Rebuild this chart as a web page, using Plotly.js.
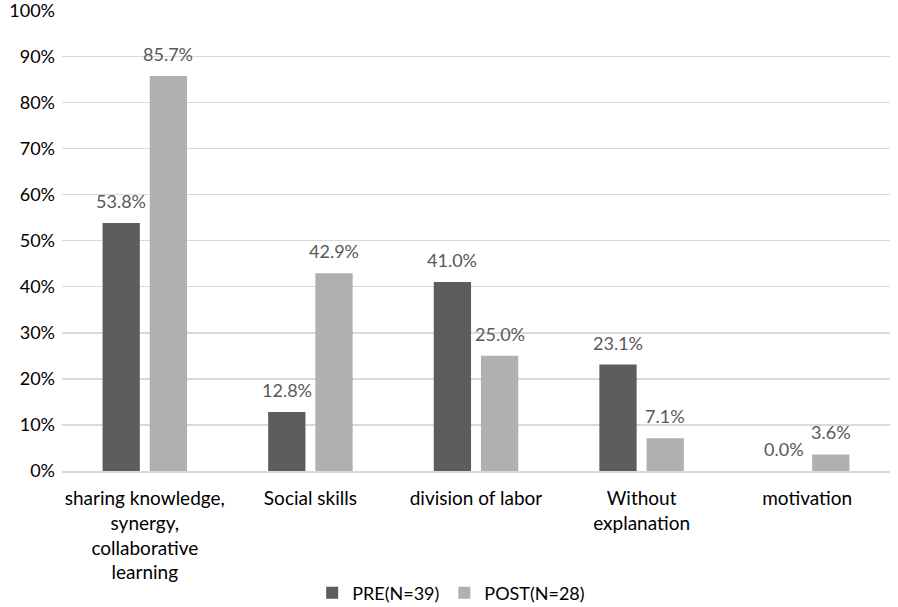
<!DOCTYPE html>
<html>
<head>
<meta charset="utf-8">
<script src="https://cdn.plot.ly/plotly-3.0.1.min.js"></script>
<style>html,body{margin:0;padding:0;background:#fff;}#chart{width:898px;height:607px;}</style>
</head>
<body>
<div id="chart"></div>
<script>
const categories = ["sharing knowledge,<br>synergy,<br>collaborative<br>learning", "Social skills", "division of labor", "Without<br>explanation", "motivation"];
const preValues = [0.538, 0.128, 0.410, 0.231, 0.000];
const postValues = [0.857, 0.429, 0.250, 0.071, 0.036];
const preName = "PRE(N=39)";
const postName = "POST(N=28)";
const yTickVals = [0,0.1,0.2,0.3,0.4,0.5,0.6,0.7,0.8,0.9,1.0];

const fmt = v => (v*100).toFixed(1) + "%";
const FONT = "Lato, 'Open Sans', sans-serif";
const labelFont = {family: FONT, size: 18, color: "#595959"};

const traces = [
  {type: "bar", name: preName, x: categories, y: preValues,
   marker: {color: "#5d5d5d", line: {width: 0}}, hoverinfo: "none"},
  {type: "bar", name: postName, x: categories, y: postValues,
   marker: {color: "#b0b0b0", line: {width: 0}}, hoverinfo: "none"}
];

const annotations = [];
categories.forEach((c, i) => {
  annotations.push({x: c, y: preValues[i], xref: "x", yref: "y", text: fmt(preValues[i]),
    showarrow: false, xshift: -23.6, yshift: 9, yanchor: "bottom", font: labelFont});
  annotations.push({x: c, y: postValues[i], xref: "x", yref: "y", text: fmt(postValues[i]),
    showarrow: false, xshift: 23.6, yshift: 9, yanchor: "bottom", font: labelFont});
});

const layout = {
  width: 898, height: 607,
  margin: {l: 62, r: 8, t: 10, b: 136},
  paper_bgcolor: "#fff", plot_bgcolor: "#fff",
  barmode: "group", bargap: 0.43, bargroupgap: 0.21,
  font: {family: FONT, color: "#000"},
  showlegend: true,
  legend: {orientation: "h", xref: "paper", x: 0.47, xanchor: "center",
           yref: "container", y: 0.023, yanchor: "middle",
           font: {size: 18, color: "#000"}, traceorder: "normal"},
  annotations: annotations,
  xaxis: {type: "category", showgrid: false, showline: true, linecolor: "#d9d9d9", linewidth: 1.5,
          tickfont: {size: 19, color: "#000"}, ticks: "", ticklabelstandoff: 10, automargin: false},
  yaxis: {range: [0, 1.0005], tickvals: yTickVals, tickformat: ".0%", showgrid: true,
          gridcolor: "#d9d9d9", gridwidth: 1.5, zeroline: false, showline: false,
          ticklabeloverflow: "allow",
          tickfont: {size: 18, color: "#000"}, ticks: "", ticklabelstandoff: 6, automargin: false}
};

Plotly.newPlot("chart", traces, layout, {displayModeBar: false, staticPlot: true});
</script>
</body>
</html>
